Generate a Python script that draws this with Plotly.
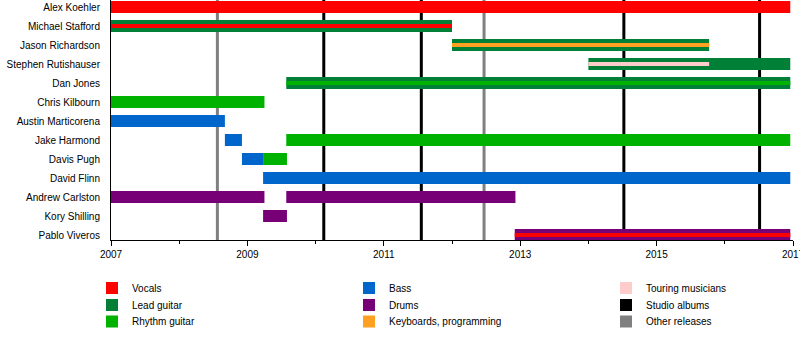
import plotly.graph_objects as go

# Band members, top to bottom
members = [
    "Alex Koehler", "Michael Stafford", "Jason Richardson", "Stephen Rutishauser",
    "Dan Jones", "Chris Kilbourn", "Austin Marticorena", "Jake Harmond",
    "Davis Pugh", "David Flinn", "Andrew Carlston", "Kory Shilling", "Pablo Viveros",
]

END = 2016.96  # end of the timeline

roles = ["Vocals", "Lead guitar", "Rhythm guitar", "Bass", "Drums",
         "Keyboards, programming", "Touring musicians"]
role_colors = ["#ff0000", "#008037", "#00b200", "#0066cc", "#770077",
               "#ffa020", "#ffcccc"]

# Main membership periods (full-height bars)
bar_member = [
    "Alex Koehler", "Michael Stafford", "Jason Richardson", "Stephen Rutishauser",
    "Dan Jones", "Chris Kilbourn", "Austin Marticorena", "Jake Harmond",
    "Jake Harmond", "Davis Pugh", "Davis Pugh", "David Flinn",
    "Andrew Carlston", "Andrew Carlston", "Kory Shilling", "Pablo Viveros",
]
bar_role = [
    "Vocals", "Lead guitar", "Lead guitar", "Lead guitar",
    "Lead guitar", "Rhythm guitar", "Bass", "Bass",
    "Rhythm guitar", "Bass", "Rhythm guitar", "Bass",
    "Drums", "Drums", "Drums", "Drums",
]
bar_start = [
    2007.0, 2007.0, 2012.0, 2014.0,
    2009.57, 2007.0, 2007.0, 2008.67,
    2009.57, 2008.92, 2009.23, 2009.23,
    2007.0, 2009.57, 2009.23, 2012.92,
]
bar_end = [
    END, 2012.0, 2015.77, END,
    END, 2009.25, 2008.67, 2008.92,
    END, 2009.23, 2009.58, END,
    2009.25, 2012.93, 2009.58, END,
]

# Secondary roles (thin centre stripes)
stripe_member = ["Michael Stafford", "Jason Richardson", "Stephen Rutishauser",
                 "Dan Jones", "Pablo Viveros"]
stripe_role = ["Vocals", "Keyboards, programming", "Touring musicians",
               "Rhythm guitar", "Vocals"]
stripe_start = [2007.0, 2012.0, 2014.0, 2009.57, 2012.92]
stripe_end = [2012.0, 2015.77, 2015.77, END, END]

# Release dates
studio_albums = [2010.12, 2011.55, 2014.52, 2016.51]
other_releases = [2008.56, 2012.47]
release_kinds = ["Studio albums", "Other releases"]
release_colors = ["#000000", "#808080"]

FONT = "Liberation Sans, Arial, sans-serif"
BAR_W = 0.632
STRIPE_W = 0.21

# legend layout: three rows, three columns (column-major order)
legend_items = roles + release_kinds
legend_rows = ["legend", "legend2", "legend3"]


def legend_props(name):
    k = legend_items.index(name)
    col, row = divmod(k, 3)
    return dict(legend=legend_rows[row], legendrank=col + 1,
                legendwidth=212 if col < 2 else 100)


fig = go.Figure()
shown = set()


def add_layer(member_list, role_list, start_list, end_list, width):
    for role, color in zip(roles, role_colors):
        idx = [i for i, r in enumerate(role_list) if r == role]
        if not idx:
            continue
        show = role not in shown
        shown.add(role)
        fig.add_trace(go.Bar(
            orientation="h",
            y=[member_list[i] for i in idx],
            base=[start_list[i] for i in idx],
            x=[end_list[i] - start_list[i] for i in idx],
            width=width,
            marker=dict(color=color, line=dict(width=0)),
            name=role, legendgroup=role, showlegend=show,
            hoverinfo="skip",
            **legend_props(role),
        ))


add_layer(bar_member, bar_role, bar_start, bar_end, BAR_W)
add_layer(stripe_member, stripe_role, stripe_start, stripe_end, STRIPE_W)

# legend swatches for the release markers
for kind, color in zip(release_kinds, release_colors):
    fig.add_trace(go.Bar(
        orientation="h", x=[None], y=[None], name=kind,
        marker=dict(color=color, line=dict(width=0)),
        **legend_props(kind),
    ))

# vertical release lines
for dates, color in zip([studio_albums, other_releases], release_colors):
    for d in dates:
        fig.add_shape(type="line", xref="x", yref="paper", x0=d, x1=d, y0=0, y1=1,
                      line=dict(color=color, width=3), layer="below")

PLOT_H = 240
legend_centers = [288, 305, 321.5]
common_legend = dict(orientation="h", x=(92 - 111) / 682, xanchor="left",
                     yanchor="middle", bgcolor="rgba(0,0,0,0)",
                     font=dict(family=FONT, size=10, color="#000"),
                     traceorder="normal")
legends = {}
for name, cy in zip(legend_rows, legend_centers):
    legends[name] = dict(common_legend, y=(PLOT_H - cy) / PLOT_H)

fig.update_layout(
    width=800, height=340,
    margin=dict(l=111, r=7, t=0, b=100, autoexpand=False),
    paper_bgcolor="white", plot_bgcolor="white",
    barmode="overlay",
    font=dict(family=FONT, size=10, color="#000"),
    xaxis=dict(
        range=[2007, 2017], tickmode="linear", tick0=2007, dtick=2,
        ticks="outside", ticklen=5, tickwidth=1, tickcolor="#000",
        showline=True, linecolor="#000", linewidth=1,
        showgrid=False, zeroline=False, ticklabeloverflow="allow",
        automargin=False,
        tickfont=dict(family=FONT, size=10, color="#000"),
        minor=dict(dtick=1, tick0=2007, ticks="outside", ticklen=3,
                   tickwidth=1, tickcolor="#000", showgrid=False),
    ),
    yaxis=dict(
        type="category", categoryorder="array", categoryarray=members,
        range=[(PLOT_H - 7) / 19, -7 / 19],
        showline=True, linecolor="#000", linewidth=1,
        ticks="", showgrid=False, zeroline=False, automargin=False,
        tickfont=dict(family=FONT, size=10, color="#000"),
        ticklabelstandoff=8,
    ),
    **legends,
)

fig.write_html("out.html")
